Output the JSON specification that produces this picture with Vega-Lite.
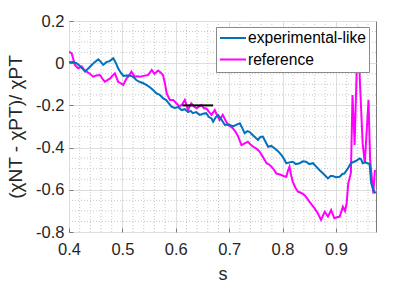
{
  "$schema": "https://vega.github.io/schema/vega-lite/v6.json",
  "width": 307,
  "height": 211,
  "autosize": {"type": "none"},
  "padding": {"left": 69, "top": 21, "right": 39, "bottom": 52},
  "background": "white",
  "config": {
    "font": "Liberation Sans",
    "view": {"stroke": "#7a7a7a", "strokeWidth": 1},
    "axis": {
      "labelFont": "Liberation Sans",
      "titleFont": "Liberation Sans",
      "labelColor": "#262626",
      "titleColor": "#262626",
      "labelFontSize": 16.5,
      "titleFontWeight": "normal",
      "labelFlush": false,
      "domain": false,
      "gridColor": "#dedede",
      "gridWidth": 1,
      "tickColor": "#7a7a7a",
      "tickSize": -4
    }
  },
  "datasets": {
    "xminor": [
      {"s": 0.42}, {"s": 0.44}, {"s": 0.46}, {"s": 0.48},
      {"s": 0.52}, {"s": 0.54}, {"s": 0.56}, {"s": 0.58},
      {"s": 0.62}, {"s": 0.64}, {"s": 0.66}, {"s": 0.68},
      {"s": 0.72}, {"s": 0.74}, {"s": 0.76}, {"s": 0.78},
      {"s": 0.82}, {"s": 0.84}, {"s": 0.86}, {"s": 0.88},
      {"s": 0.92}, {"s": 0.94}, {"s": 0.96}
    ],
    "yminor": [
      {"v": 0.15}, {"v": 0.1}, {"v": 0.05},
      {"v": -0.05}, {"v": -0.1}, {"v": -0.15},
      {"v": -0.25}, {"v": -0.3}, {"v": -0.35},
      {"v": -0.45}, {"v": -0.5}, {"v": -0.55},
      {"v": -0.65}, {"v": -0.7}, {"v": -0.75}
    ],
    "marker": [
      {"s": 0.6125, "s2": 0.67, "v": -0.2}
    ],
    "reference": [
      {"s": 0.400, "v": 0.055}, {"s": 0.405, "v": 0.047}, {"s": 0.411, "v": -0.008}, {"s": 0.417, "v": -0.024},
      {"s": 0.424, "v": -0.016}, {"s": 0.428, "v": -0.030}, {"s": 0.433, "v": -0.040}, {"s": 0.439, "v": -0.050},
      {"s": 0.445, "v": -0.064}, {"s": 0.451, "v": -0.058}, {"s": 0.458, "v": -0.056}, {"s": 0.463, "v": -0.075},
      {"s": 0.467, "v": -0.088}, {"s": 0.472, "v": -0.080}, {"s": 0.477, "v": -0.072}, {"s": 0.481, "v": -0.060},
      {"s": 0.486, "v": -0.048}, {"s": 0.492, "v": -0.088}, {"s": 0.497, "v": -0.095}, {"s": 0.5015, "v": -0.103},
      {"s": 0.508, "v": -0.072}, {"s": 0.512, "v": -0.060}, {"s": 0.517, "v": -0.040}, {"s": 0.523, "v": -0.064},
      {"s": 0.528, "v": -0.062}, {"s": 0.533, "v": -0.064}, {"s": 0.540, "v": -0.060}, {"s": 0.548, "v": -0.056},
      {"s": 0.555, "v": -0.032}, {"s": 0.560, "v": -0.050}, {"s": 0.567, "v": -0.035}, {"s": 0.572, "v": -0.045},
      {"s": 0.576, "v": -0.056}, {"s": 0.580, "v": -0.100}, {"s": 0.583, "v": -0.143}, {"s": 0.589, "v": -0.174},
      {"s": 0.595, "v": -0.174}, {"s": 0.601, "v": -0.190}, {"s": 0.607, "v": -0.206}, {"s": 0.612, "v": -0.195},
      {"s": 0.617, "v": -0.174}, {"s": 0.623, "v": -0.222}, {"s": 0.629, "v": -0.190}, {"s": 0.634, "v": -0.205},
      {"s": 0.639, "v": -0.214}, {"s": 0.644, "v": -0.205}, {"s": 0.648, "v": -0.198}, {"s": 0.653, "v": -0.215},
      {"s": 0.657, "v": -0.214}, {"s": 0.662, "v": -0.230}, {"s": 0.667, "v": -0.245}, {"s": 0.673, "v": -0.222},
      {"s": 0.678, "v": -0.250}, {"s": 0.682, "v": -0.269}, {"s": 0.688, "v": -0.245}, {"s": 0.693, "v": -0.270},
      {"s": 0.698, "v": -0.293}, {"s": 0.703, "v": -0.300}, {"s": 0.707, "v": -0.309}, {"s": 0.712, "v": -0.325},
      {"s": 0.717, "v": -0.348}, {"s": 0.723, "v": -0.388}, {"s": 0.729, "v": -0.380}, {"s": 0.735, "v": -0.372},
      {"s": 0.740, "v": -0.385}, {"s": 0.745, "v": -0.396}, {"s": 0.751, "v": -0.405}, {"s": 0.757, "v": -0.419},
      {"s": 0.763, "v": -0.443}, {"s": 0.770, "v": -0.474}, {"s": 0.775, "v": -0.480}, {"s": 0.779, "v": -0.490},
      {"s": 0.784, "v": -0.505}, {"s": 0.788, "v": -0.522}, {"s": 0.793, "v": -0.526}, {"s": 0.798, "v": -0.530},
      {"s": 0.803, "v": -0.536}, {"s": 0.807, "v": -0.538}, {"s": 0.810, "v": -0.510}, {"s": 0.813, "v": -0.490},
      {"s": 0.816, "v": -0.530}, {"s": 0.819, "v": -0.561}, {"s": 0.824, "v": -0.590}, {"s": 0.829, "v": -0.609},
      {"s": 0.835, "v": -0.615}, {"s": 0.841, "v": -0.625}, {"s": 0.846, "v": -0.640}, {"s": 0.850, "v": -0.656},
      {"s": 0.855, "v": -0.672}, {"s": 0.860, "v": -0.688}, {"s": 0.866, "v": -0.711}, {"s": 0.872, "v": -0.743},
      {"s": 0.879, "v": -0.704}, {"s": 0.885, "v": -0.727}, {"s": 0.891, "v": -0.696}, {"s": 0.897, "v": -0.735},
      {"s": 0.902, "v": -0.730}, {"s": 0.907, "v": -0.727}, {"s": 0.913, "v": -0.680}, {"s": 0.917, "v": -0.700},
      {"s": 0.920, "v": -0.664}, {"s": 0.923, "v": -0.570}, {"s": 0.926, "v": -0.540}, {"s": 0.928, "v": -0.520},
      {"s": 0.931, "v": -0.151}, {"s": 0.935, "v": -0.388}, {"s": 0.941, "v": 0.173}, {"s": 0.945, "v": -0.095},
      {"s": 0.950, "v": -0.380}, {"s": 0.954, "v": -0.474}, {"s": 0.961, "v": -0.174}, {"s": 0.964, "v": -0.459},
      {"s": 0.970, "v": -0.617}, {"s": 0.973, "v": -0.506}
    ],
    "experimental": [
      {"s": 0.400, "v": 0.004}, {"s": 0.407, "v": 0.006}, {"s": 0.414, "v": 0.000}, {"s": 0.420, "v": -0.012},
      {"s": 0.425, "v": -0.025}, {"s": 0.430, "v": -0.040}, {"s": 0.436, "v": -0.025}, {"s": 0.442, "v": -0.010},
      {"s": 0.448, "v": 0.005}, {"s": 0.455, "v": 0.018}, {"s": 0.460, "v": 0.005}, {"s": 0.464, "v": -0.008},
      {"s": 0.470, "v": 0.005}, {"s": 0.476, "v": 0.010}, {"s": 0.483, "v": 0.023}, {"s": 0.488, "v": 0.000},
      {"s": 0.492, "v": -0.024}, {"s": 0.497, "v": -0.045}, {"s": 0.502, "v": -0.060}, {"s": 0.510, "v": -0.058},
      {"s": 0.517, "v": -0.060}, {"s": 0.522, "v": -0.068}, {"s": 0.526, "v": -0.080}, {"s": 0.532, "v": -0.088},
      {"s": 0.538, "v": -0.094}, {"s": 0.545, "v": -0.103}, {"s": 0.552, "v": -0.115}, {"s": 0.558, "v": -0.128},
      {"s": 0.564, "v": -0.143}, {"s": 0.570, "v": -0.150}, {"s": 0.576, "v": -0.166}, {"s": 0.582, "v": -0.175},
      {"s": 0.587, "v": -0.190}, {"s": 0.592, "v": -0.206}, {"s": 0.598, "v": -0.212}, {"s": 0.604, "v": -0.208},
      {"s": 0.611, "v": -0.222}, {"s": 0.617, "v": -0.218}, {"s": 0.623, "v": -0.232}, {"s": 0.628, "v": -0.226},
      {"s": 0.632, "v": -0.237}, {"s": 0.638, "v": -0.232}, {"s": 0.645, "v": -0.245}, {"s": 0.651, "v": -0.240},
      {"s": 0.657, "v": -0.237}, {"s": 0.662, "v": -0.255}, {"s": 0.667, "v": -0.262}, {"s": 0.670, "v": -0.277},
      {"s": 0.675, "v": -0.255}, {"s": 0.679, "v": -0.245}, {"s": 0.685, "v": -0.265}, {"s": 0.692, "v": -0.293},
      {"s": 0.699, "v": -0.290}, {"s": 0.707, "v": -0.300}, {"s": 0.713, "v": -0.292}, {"s": 0.720, "v": -0.285},
      {"s": 0.725, "v": -0.310}, {"s": 0.729, "v": -0.332}, {"s": 0.734, "v": -0.322}, {"s": 0.738, "v": -0.325},
      {"s": 0.746, "v": -0.345}, {"s": 0.754, "v": -0.364}, {"s": 0.758, "v": -0.350}, {"s": 0.763, "v": -0.348},
      {"s": 0.768, "v": -0.372}, {"s": 0.773, "v": -0.396}, {"s": 0.779, "v": -0.392}, {"s": 0.785, "v": -0.403},
      {"s": 0.792, "v": -0.418}, {"s": 0.798, "v": -0.435}, {"s": 0.803, "v": -0.455}, {"s": 0.807, "v": -0.474},
      {"s": 0.813, "v": -0.470}, {"s": 0.819, "v": -0.467}, {"s": 0.825, "v": -0.478}, {"s": 0.832, "v": -0.474},
      {"s": 0.838, "v": -0.465}, {"s": 0.844, "v": -0.467}, {"s": 0.850, "v": -0.478}, {"s": 0.857, "v": -0.474},
      {"s": 0.863, "v": -0.490}, {"s": 0.869, "v": -0.506}, {"s": 0.877, "v": -0.525}, {"s": 0.885, "v": -0.546},
      {"s": 0.890, "v": -0.535}, {"s": 0.894, "v": -0.535}, {"s": 0.900, "v": -0.540}, {"s": 0.907, "v": -0.538},
      {"s": 0.912, "v": -0.525}, {"s": 0.916, "v": -0.522}, {"s": 0.922, "v": -0.500}, {"s": 0.928, "v": -0.474},
      {"s": 0.934, "v": -0.467}, {"s": 0.940, "v": -0.460}, {"s": 0.944, "v": -0.451}, {"s": 0.947, "v": -0.455},
      {"s": 0.950, "v": -0.474}, {"s": 0.955, "v": -0.470}, {"s": 0.959, "v": -0.474}, {"s": 0.963, "v": -0.478},
      {"s": 0.966, "v": -0.569}, {"s": 0.970, "v": -0.600}, {"s": 0.974, "v": -0.617}
    ]
  },
  "layer": [
    {
      "data": {"name": "xminor"},
      "mark": {"type": "rule", "color": "#c8c8c8", "strokeWidth": 1, "strokeDash": [1, 2]},
      "encoding": {
        "x": {
          "field": "s", "type": "quantitative",
          "scale": {"domain": [0.4, 0.975], "nice": false, "zero": false},
          "axis": {"values": [0.4, 0.5, 0.6, 0.7, 0.8, 0.9], "format": ".1f", "title": "s", "titleFontSize": 18, "grid": true, "labelPadding": 13, "titlePadding": 8}
        }
      }
    },
    {
      "data": {"name": "yminor"},
      "mark": {"type": "rule", "color": "#c8c8c8", "strokeWidth": 1, "strokeDash": [1, 2]},
      "encoding": {
        "y": {
          "field": "v", "type": "quantitative",
          "scale": {"domain": [-0.8, 0.2], "nice": false, "zero": false},
          "axis": {
            "values": [0.2, 0, -0.2, -0.4, -0.6, -0.8],
            "labelExpr": "datum.value == 0 ? '0' : (datum.value < 0 ? '-' : '') + format(abs(datum.value), '.1f')",
            "title": "(χNT - χPT)/ χPT", "titleFontSize": 19, "grid": true, "labelPadding": 9, "titlePadding": 10
          }
        }
      }
    },
    {
      "data": {"name": "reference"},
      "transform": [{"calculate": "'reference'", "as": "series"}],
      "mark": {"type": "line", "strokeWidth": 2, "clip": true},
      "encoding": {
        "x": {"field": "s", "type": "quantitative"},
        "y": {"field": "v", "type": "quantitative"},
        "color": {
          "field": "series", "type": "nominal",
          "scale": {"domain": ["experimental-like", "reference"], "range": ["#0072BD", "#FF00FF"]},
          "legend": {
            "title": null, "orient": "none", "legendX": 147, "legendY": 6,
            "fillColor": "white", "strokeColor": "#8a8a8a", "padding": 3,
            "symbolType": "stroke", "symbolSize": 676, "symbolStrokeWidth": 2,
            "clipHeight": 16,
            "labelFont": "Liberation Sans", "labelFontSize": 15.6, "labelColor": "#000000",
            "labelOffset": 1, "rowPadding": 4.5
          }
        }
      }
    },
    {
      "data": {"name": "experimental"},
      "transform": [{"calculate": "'experimental-like'", "as": "series"}],
      "mark": {"type": "line", "strokeWidth": 2, "clip": true},
      "encoding": {
        "x": {"field": "s", "type": "quantitative"},
        "y": {"field": "v", "type": "quantitative"},
        "color": {"field": "series", "type": "nominal"}
      }
    },
    {
      "data": {"name": "marker"},
      "mark": {"type": "rule", "color": "black", "strokeWidth": 2},
      "encoding": {
        "x": {"field": "s", "type": "quantitative"},
        "x2": {"field": "s2"},
        "y": {"field": "v", "type": "quantitative"}
      }
    }
  ]
}
